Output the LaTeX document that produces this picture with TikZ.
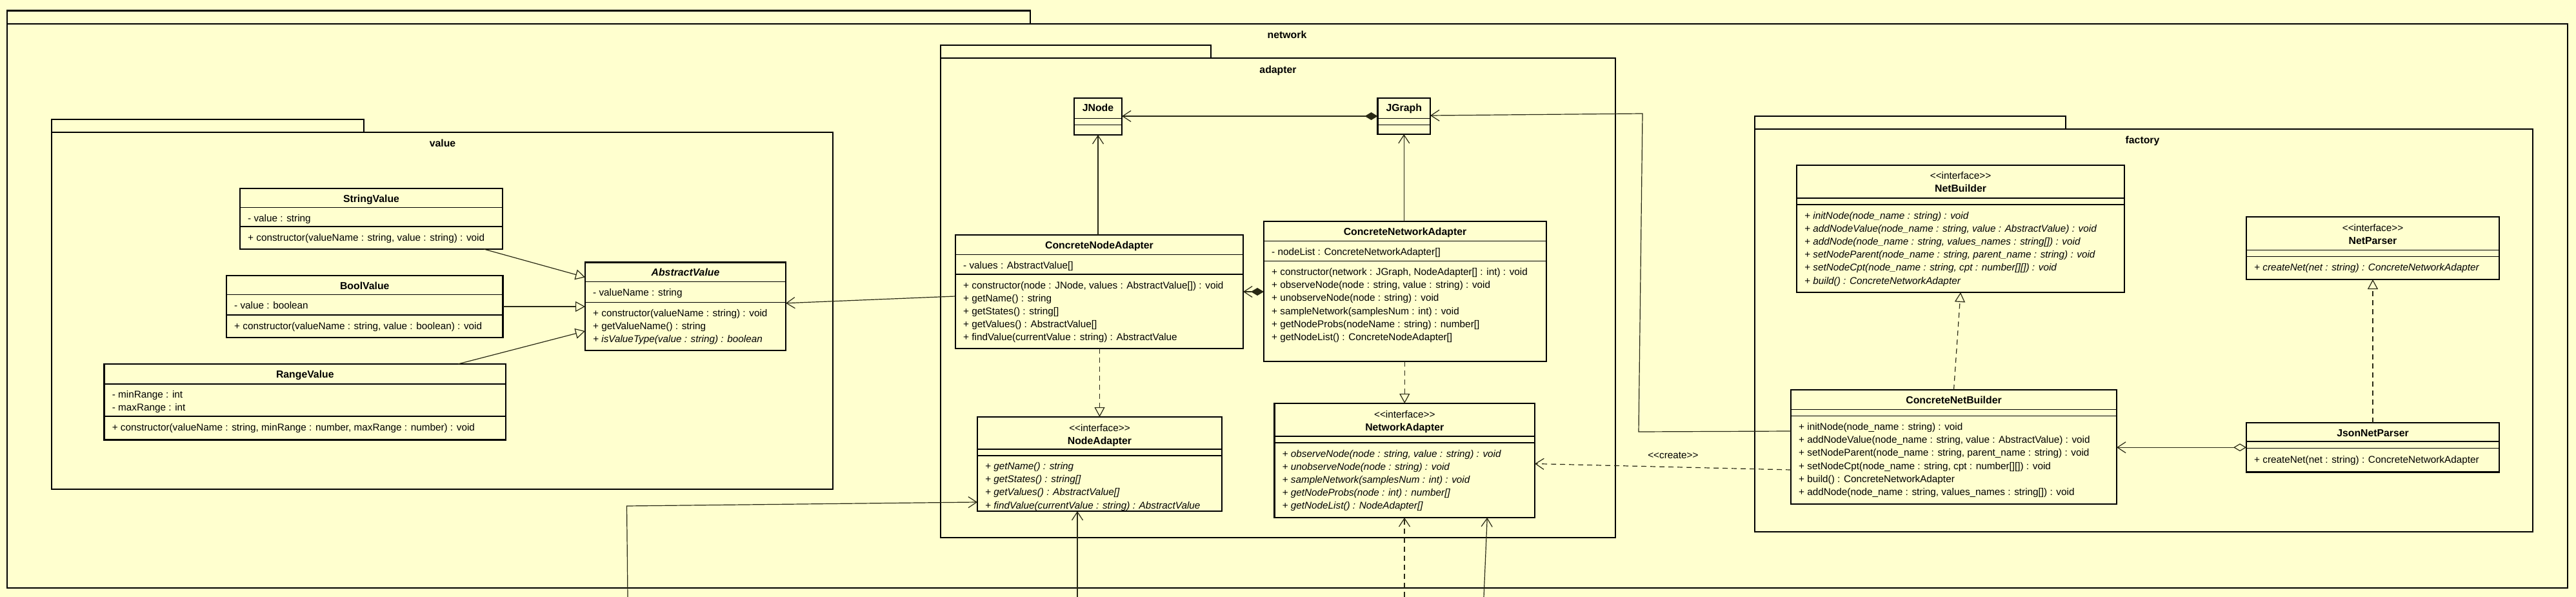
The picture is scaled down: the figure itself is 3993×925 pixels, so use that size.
\documentclass[tikz,border=0pt]{standalone}
\usepackage{fontspec}
\setmainfont{Liberation Sans}
\usetikzlibrary{arrows.meta, fit, positioning}

\definecolor{umlbg}{HTML}{FFFFCF}
\definecolor{umlline}{RGB}{40,40,20}

\tikzset{
  classbox/.style={draw, line width=2.6pt, fill=umlbg, inner sep=0pt, outer sep=0pt},
  pkgbox/.style={draw, line width=2.6pt, fill=umlbg, inner sep=0pt, outer sep=0pt},
  divider/.style={line width=1.1pt},
  member/.style={anchor=base west, inner sep=0pt, font=\fontsize{15.3}{18}\selectfont},
  memberit/.style={member, font=\fontsize{15.3}{18}\selectfont\itshape},
  ctitle/.style={anchor=base, inner sep=0pt, font=\fontsize{15.8}{18}\selectfont\bfseries},
  stereo/.style={anchor=base, inner sep=0pt, font=\fontsize{15.3}{18}\selectfont},
  pkglabel/.style={anchor=base, inner sep=0pt, font=\fontsize{15.8}{18}\selectfont\bfseries},
  conn/.style={line width=1.2pt, draw=umlline},
  gen/.style={conn, -{Triangle[open, length=15pt, width=16pt, fill=umlbg]}},
  real/.style={gen, dash pattern=on 8pt off 6pt},
  assoc/.style={conn, -{Straight Barb[length=13pt, width=17pt]}},
  dep/.style={assoc, dash pattern=on 8pt off 6pt},
  comp/.style={conn, {Diamond[length=20pt, width=12pt]}-{Straight Barb[length=13pt, width=17pt]}},
  aggr/.style={conn, {Diamond[open, fill=umlbg, length=20pt, width=12pt]}-{Straight Barb[length=13pt, width=17pt]}},
}

\newcommand{\umlclass}[6]{%
  \node[classbox, fit={(#2,#3) (#4,#5)}] (#1) {};
  \node[ctitle] (#1-name) at ({(#2+#4)/2},#3+21) {#6};
}
\newcommand{\umliface}[6]{%
  \node[classbox, fit={(#2,#3) (#4,#5)}] (#1) {};
  \node[stereo] (#1-stereo) at ({(#2+#4)/2},#3+22) {<{}<interface>{}>};
  \node[ctitle] (#1-name) at ({(#2+#4)/2},#3+42) {#6};
}
\newcommand{\members}[5]{%
  \foreach \t [count=\i from 0] in {#5}
    \node[#4] (#1-\i) at (#2+12, #3+20.2*\i) {\t};
}

\begin{document}
\begin{tikzpicture}[x=1pt, y=-1pt]
  \useasboundingbox (0,0) rectangle (3993,925);
  \fill[umlbg] (0,0) rectangle (3993,925);

  \node[pkgbox, fit={(11,16.7) (1597,37)}] (network-tab) {};
  \node[pkgbox, fit={(11,37) (3980,911)}] (network) {};
  \node[pkglabel] (network-label) at (1995,60) {network};

  \node[pkgbox, fit={(80,185) (564,205)}] (value-tab) {};
  \node[pkgbox, fit={(80,205) (1291,758)}] (value) {};
  \node[pkglabel] (value-label) at (686,228) {value};

  \node[pkgbox, fit={(1458,70) (1877,90)}] (adapter-tab) {};
  \node[pkgbox, fit={(1458,90) (2504,833)}] (adapter) {};
  \node[pkglabel] (adapter-label) at (1981,114) {adapter};

  \node[pkgbox, fit={(2720,180) (3202,200)}] (factory-tab) {};
  \node[pkgbox, fit={(2720,200) (3926,824)}] (factory) {};
  \node[pkglabel] (factory-label) at (3321,223) {factory};

  \umlclass{StringValue}{372}{292}{779}{386}{StringValue}
  \members{StringValue-a}{372}{343}{member}{{- value : string}}
  \members{StringValue-m}{372}{373}{member}{{+ constructor(valueName : string, value : string) : void}}

  \umlclass{BoolValue}{351}{427}{779.5}{523}{BoolValue}
  \members{BoolValue-a}{351}{478}{member}{{- value : boolean}}
  \members{BoolValue-m}{351}{510}{member}{{+ constructor(valueName : string, value : boolean) : void}}

  \umlclass{RangeValue}{161.6}{564}{784}{681.4}{RangeValue}
  \members{RangeValue-a}{161.6}{616.5}{member}{{- minRange : int}, {- maxRange : int}}
  \members{RangeValue-m}{161.6}{667.5}{member}{{+ constructor(valueName : string, minRange : number, maxRange : number) : void}}

  \umlclass{AbstractValue}{907}{406.5}{1218}{543}{\itshape AbstractValue}
  \members{AbstractValue-a}{907}{458}{member}{{- valueName : string}}
  \members{AbstractValue-m}{907}{490.5}{member}{{+ constructor(valueName : string) : void}, {+ getValueName() : string}}
  \members{AbstractValue-v}{907}{530.9}{memberit}{{+ isValueType(value : string) : boolean}}

  \umlclass{JNode}{1665}{152}{1739}{209}{JNode}
  \umlclass{JGraph}{2135.5}{152}{2217}{208}{JGraph}

  \umlclass{ConcreteNodeAdapter}{1481}{364}{1927}{540}{ConcreteNodeAdapter}
  \members{ConcreteNodeAdapter-a}{1481}{416}{member}{{- values : AbstractValue[]}}
  \members{ConcreteNodeAdapter-m}{1481}{447}{member}{{+ constructor(node : JNode, values : AbstractValue[]) : void},
    {+ getName() : string}, {+ getStates() : string[]}, {+ getValues() : AbstractValue[]},
    {+ findValue(currentValue : string) : AbstractValue}}

  \umlclass{ConcreteNetworkAdapter}{1959}{343}{2397}{560}{ConcreteNetworkAdapter}
  \members{ConcreteNetworkAdapter-a}{1959}{395}{member}{{- nodeList : ConcreteNetworkAdapter[]}}
  \members{ConcreteNetworkAdapter-m}{1959}{426.5}{member}{{+ constructor(network : JGraph, NodeAdapter[] : int) : void},
    {+ observeNode(node : string, value : string) : void}, {+ unobserveNode(node : string) : void},
    {+ sampleNetwork(samplesNum : int) : void}, {+ getNodeProbs(nodeName : string) : number[]},
    {+ getNodeList() : ConcreteNodeAdapter[]}}

  \umliface{NodeAdapter}{1515}{646}{1894}{792}{NodeAdapter}
  \members{NodeAdapter-m}{1515}{727.5}{memberit}{{+ getName() : string}, {+ getStates() : string[]},
    {+ getValues() : AbstractValue[]}, {+ findValue(currentValue : string) : AbstractValue}}

  \umliface{NetworkAdapter}{1975.5}{625}{2379}{802}{NetworkAdapter}
  \members{NetworkAdapter-m}{1975.5}{708}{memberit}{{+ observeNode(node : string, value : string) : void},
    {+ unobserveNode(node : string) : void}, {+ sampleNetwork(samplesNum : int) : void},
    {+ getNodeProbs(node : int) : number[]}, {+ getNodeList() : NodeAdapter[]}}

  \umliface{NetBuilder}{2785}{256}{3293}{453}{NetBuilder}
  \members{NetBuilder-m}{2785}{339}{memberit}{{+ initNode(node\_name : string) : void},
    {+ addNodeValue(node\_name : string, value : AbstractValue) : void},
    {+ addNode(node\_name : string, values\_names : string[]) : void},
    {+ setNodeParent(node\_name : string, parent\_name : string) : void},
    {+ setNodeCpt(node\_name : string, cpt : number[][]) : void}, {+ build() : ConcreteNetworkAdapter}}

  \umliface{NetParser}{3482}{336}{3874}{433}{NetParser}
  \members{NetParser-m}{3482}{419.5}{memberit}{{+ createNet(net : string) : ConcreteNetworkAdapter}}

  \umlclass{ConcreteNetBuilder}{2776}{604}{3281}{781}{ConcreteNetBuilder}
  \members{ConcreteNetBuilder-m}{2776}{666.5}{member}{{+ initNode(node\_name : string) : void},
    {+ addNodeValue(node\_name : string, value : AbstractValue) : void},
    {+ setNodeParent(node\_name : string, parent\_name : string) : void},
    {+ setNodeCpt(node\_name : string, cpt : number[][]) : void}, {+ build() : ConcreteNetworkAdapter},
    {+ addNode(node\_name : string, values\_names : string[]) : void}}

  \umlclass{JsonNetParser}{3482}{655}{3874}{731.5}{JsonNetParser}
  \members{JsonNetParser-m}{3482}{717}{member}{{+ createNet(net : string) : ConcreteNetworkAdapter}}

  \foreach \n/\y in {StringValue/321.5, StringValue/351, BoolValue/456.5, BoolValue/488,
                     RangeValue/595, RangeValue/645, AbstractValue/436.5, AbstractValue/468.5,
                     JNode/183.5, JNode/193.5, JGraph/183.5, JGraph/193.5,
                     ConcreteNodeAdapter/394.5, ConcreteNodeAdapter/425,
                     ConcreteNetworkAdapter/373.5, ConcreteNetworkAdapter/404.5,
                     NodeAdapter/696, NodeAdapter/706, NetworkAdapter/676, NetworkAdapter/686,
                     NetBuilder/307, NetBuilder/317, NetParser/387.5, NetParser/397.5,
                     ConcreteNetBuilder/634.5, ConcreteNetBuilder/644.5,
                     JsonNetParser/684, JsonNetParser/694.5}
    \draw[divider] (\n.west |- 0,\y) -- (\n.east |- 0,\y);

  \draw[gen] ([xshift=-29pt]StringValue.south east) -- ([yshift=-23pt]AbstractValue.north west);
  \draw[gen] (BoolValue.east) -- (BoolValue.east -| AbstractValue.west);
  \draw[gen] ([xshift=-74pt]RangeValue.north east) -- ([yshift=30pt]AbstractValue.south west);
  \draw[assoc] ([yshift=-7pt]ConcreteNodeAdapter.west) -- ([yshift=5pt]AbstractValue.east);
  \draw[assoc] (ConcreteNodeAdapter.north -| JNode.south) -- (JNode.south);
  \draw[assoc] (ConcreteNetworkAdapter.north -| JGraph.south) -- (JGraph.south);
  \draw[comp] (JGraph.west) -- (JGraph.west -| JNode.east);
  \draw[comp] (ConcreteNetworkAdapter.west |- ConcreteNodeAdapter.east) -- (ConcreteNodeAdapter.east);
  \draw[real] (ConcreteNodeAdapter.south -| NodeAdapter.north) -- (NodeAdapter.north);
  \draw[real] (ConcreteNetworkAdapter.south -| NetworkAdapter.north) -- (NetworkAdapter.north);
  \draw[real] (ConcreteNetBuilder.north) -- (NetBuilder.south);
  \draw[real] (JsonNetParser.north) -- (NetParser.south);
  \draw[aggr] (JsonNetParser.west) -- (JsonNetParser.west -| ConcreteNetBuilder.east);

  \coordinate (jgraph-bend1) at (2540,669);
  \coordinate (jgraph-bend2) at (2546,176);
  \draw[assoc] ([yshift=24.5pt]ConcreteNetBuilder.west) -- (jgraph-bend1) -- (jgraph-bend2) -- ([yshift=1pt]JGraph.east);
  \draw[dep] ([yshift=-35.5pt]ConcreteNetBuilder.west) -- node[pos=0.46, above=12pt, font=\fontsize{15.3}{18}\selectfont, inner sep=0pt] (create) {<{}<create>{}>} ([yshift=-5pt]NetworkAdapter.east);

  \coordinate (out-a) at (973,925);
  \coordinate (bend-a) at (971.5,784);
  \coordinate (out-b) at (1670,925);
  \coordinate (out-c) at (2177,925);
  \coordinate (out-d) at (2300,925);
  \draw[assoc] (out-a) -- (bend-a) -- ([yshift=-59pt]NodeAdapter.west);
  \draw[assoc] (out-b) -- (out-b |- NodeAdapter.south);
  \draw[dep] (out-c) -- (out-c |- NetworkAdapter.south);
  \draw[assoc] (out-d) -- ([xshift=128pt]NetworkAdapter.south);
\end{tikzpicture}
\end{document}
